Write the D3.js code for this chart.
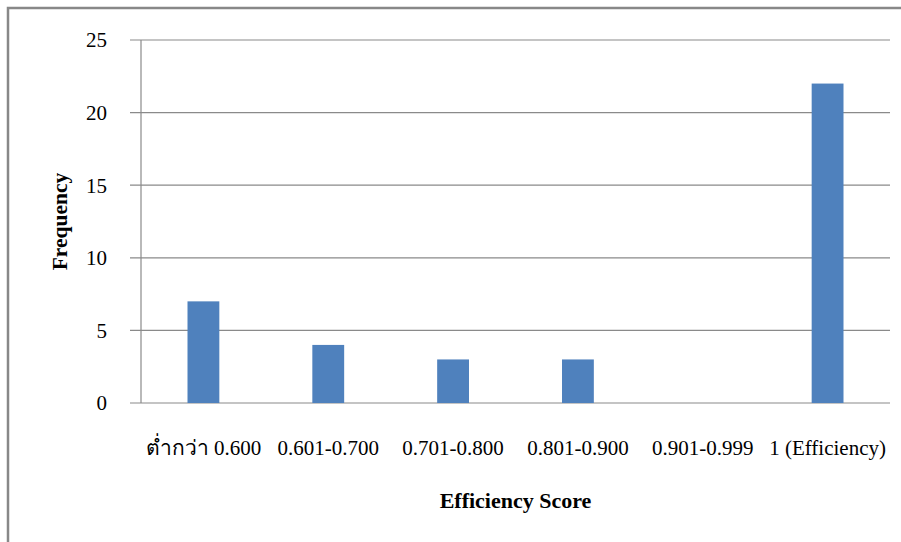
<!DOCTYPE html>
<html>
<head>
  <meta charset="utf-8">
  <title>Efficiency Score Frequency</title>
  <script src="https://d3js.org/d3.v7.min.js"></script>
  <style>
    body { margin: 0; background: #fff; }
    text { font-family: "Liberation Serif", "Times New Roman", serif; fill: #000; }
  </style>
</head>
<body>
  <svg id="chart" width="901" height="542"></svg>
  <script>
    // data
    const categories = ["ต่ำกว่า 0.600", "0.601-0.700", "0.701-0.800", "0.801-0.900", "0.901-0.999", "1 (Efficiency)"];
    const frequencies = [7, 4, 3, 3, 0, 22];
    const yTicks = [0, 5, 10, 15, 20, 25];

    const svg = d3.select("#chart");

    // outer frame (only the top and left edges show in the picture)
    svg.append("path")
      .attr("d", "M8,542 V8 H901")
      .attr("fill", "none")
      .attr("stroke", "#888")
      .attr("stroke-width", 2.5);

    const plotLeft = 141, plotRight = 890, plotTop = 40, plotBottom = 403;

    const x = d3.scaleBand()
      .domain(categories)
      .range([plotLeft, plotRight])
      .paddingInner(0.745)
      .paddingOuter(0.3725);

    const xCat = d3.scaleBand()
      .domain(categories)
      .range([plotLeft, plotRight]);

    const y = d3.scaleLinear()
      .domain([0, 25])
      .range([plotBottom, plotTop]);

    // gridlines
    svg.append("g")
      .selectAll("line")
      .data(yTicks)
      .join("line")
      .attr("x1", plotLeft - 11)
      .attr("x2", plotRight)
      .attr("y1", d => y(d))
      .attr("y2", d => y(d))
      .attr("stroke", "#8a8a8a")
      .attr("stroke-width", 1.2);

    // y axis line
    svg.append("line")
      .attr("x1", plotLeft).attr("x2", plotLeft)
      .attr("y1", plotTop).attr("y2", plotBottom)
      .attr("stroke", "#8a8a8a")
      .attr("stroke-width", 1.2);

    // y tick labels
    svg.append("g")
      .selectAll("text")
      .data(yTicks)
      .join("text")
      .attr("x", 107)
      .attr("y", d => y(d))
      .attr("dy", "0.35em")
      .attr("text-anchor", "end")
      .style("font-size", "21px")
      .text(d => d);

    // bars
    svg.append("g")
      .selectAll("rect")
      .data(frequencies)
      .join("rect")
      .attr("x", (d, i) => x(categories[i]))
      .attr("width", x.bandwidth())
      .attr("y", d => y(d))
      .attr("height", d => y(0) - y(d))
      .attr("fill", "#4f81bd");

    // x category labels
    svg.append("g")
      .selectAll("text")
      .data(categories)
      .join("text")
      .attr("x", d => xCat(d) + xCat.bandwidth() / 2)
      .attr("y", 455)
      .attr("text-anchor", "middle")
      .style("font-size", "21px")
      .text(d => d);

    // axis titles
    svg.append("text")
      .attr("x", (plotLeft + plotRight) / 2)
      .attr("y", 508)
      .attr("text-anchor", "middle")
      .style("font-size", "22px")
      .style("font-weight", "bold")
      .text("Efficiency Score");

    svg.append("text")
      .attr("transform", `translate(67,${(plotTop + plotBottom) / 2}) rotate(-90)`)
      .attr("text-anchor", "middle")
      .style("font-size", "21.5px")
      .style("font-weight", "bold")
      .text("Frequency");
  </script>
</body>
</html>
